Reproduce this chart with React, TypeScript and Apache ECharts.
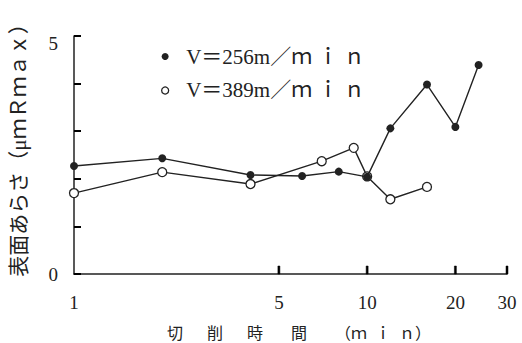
import React, { useEffect, useRef } from "react";
import * as echarts from "echarts";

// cutting time (min)
const timesV256 = [1, 2, 4, 6, 8, 10, 12, 16, 20, 24];
const roughV256 = [2.27, 2.43, 2.08, 2.06, 2.15, 2.04, 3.06, 3.98, 3.09, 4.39];
const timesV389 = [1, 2, 4, 7, 9, 10, 12, 16];
const roughV389 = [1.7, 2.14, 1.89, 2.37, 2.65, 2.05, 1.57, 1.83];

const seriesNames = ["V＝256m／ｍ ｉ ｎ", "V＝389m／ｍ ｉ ｎ"];
const xTickValues = [1, 5, 10, 20, 30];
const yTickValues = [1, 2, 3, 4, 5];
const yLabelValues = [0, 5];
const yAxisTitle = "表面あらさ（μｍＲｍａｘ）";
const xAxisTitle = "切　  削　  時　   間　   （ｍ  ｉ  ｎ）";

const INK = "#222";
const FONT = "'Liberation Serif', 'DejaVu Serif', 'Noto Sans CJK JP', serif";

export default function App() {
  const ref = useRef<HTMLDivElement>(null);
  useEffect(() => {
    if (!ref.current) return;
    const chart = echarts.init(ref.current, undefined, { renderer: "svg" });
    chart.setOption({
      animation: false,
      backgroundColor: "#fff",
      grid: { left: 72, top: 36, width: 435, height: 238, containLabel: false },
      legend: {
        orient: "vertical",
        left: 156,
        top: 41,
        itemWidth: 32,
        itemHeight: 7,
        itemGap: 13,
        symbolKeepAspect: true,
        selectedMode: false,
        textStyle: { fontSize: 21, fontFamily: FONT, color: INK },
        data: [
          { name: seriesNames[0], icon: "circle", itemStyle: { color: INK, borderWidth: 0 } },
          {
            name: seriesNames[1],
            icon: "circle",
            itemStyle: { color: "#fff", borderColor: INK, borderWidth: 1.3 },
          },
        ],
      },
      xAxis: {
        type: "log",
        logBase: 10,
        min: 1,
        max: 30,
        axisLine: { show: true, lineStyle: { color: INK, width: 1.5 } },
        axisTick: { show: false },
        axisLabel: { show: false },
        splitLine: { show: false },
        minorTick: { show: false },
      },
      yAxis: {
        type: "value",
        min: 0,
        max: 5,
        interval: 1,
        name: yAxisTitle,
        nameLocation: "middle",
        nameRotate: 90,
        nameGap: 45,
        nameTextStyle: { fontSize: 21, fontFamily: FONT, color: INK, padding: [0, 0, 0, 20] },
        axisLine: { show: true, lineStyle: { color: INK, width: 1.5 } },
        axisTick: { show: true, inside: true, length: 7, lineStyle: { color: "#000", width: 2 } },
        axisLabel: {
          margin: 16,
          fontSize: 19,
          fontFamily: FONT,
          color: INK,
          formatter: (v: number) =>
            yLabelValues.includes(v) ? (v === 5 ? "{low|5}" : String(v)) : "",
          rich: {
            low: { padding: [14, 0, 0, 0], fontSize: 19, fontFamily: FONT, color: INK },
          },
        },
        splitLine: { show: false },
      },
      graphic: [
        {
          type: "text",
          x: 167,
          y: 333,
          style: {
            text: xAxisTitle,
            fontSize: 16,
            fontFamily: FONT,
            fill: INK,
            verticalAlign: "middle",
          },
        },
      ],
      series: [
        {
          name: seriesNames[0],
          type: "line",
          data: timesV256.map((t, i) => [t, roughV256[i]]),
          symbol: "circle",
          symbolSize: 8,
          z: 3,
          lineStyle: { color: INK, width: 1.4 },
          itemStyle: { color: INK },
        },
        {
          name: seriesNames[1],
          type: "line",
          data: timesV389.map((t, i) => [t, roughV389[i]]),
          symbol: "circle",
          symbolSize: 9,
          z: 2,
          lineStyle: { color: INK, width: 1.4 },
          itemStyle: { color: "#fff", borderColor: INK, borderWidth: 1.3 },
        },
        {
          name: "xticks",
          type: "custom",
          clip: false,
          silent: true,
          z: 5,
          data: xTickValues.map((v) => [v, 0]),
          renderItem: (params: any, api: any) => {
            const v = api.value(0);
            const p = api.coord([v, 0]);
            const children: any[] = [
              {
                type: "text",
                x: p[0],
                y: p[1] + 28,
                style: {
                  text: String(v),
                  fontSize: 19,
                  fontFamily: FONT,
                  fill: INK,
                  align: "center",
                  verticalAlign: "middle",
                },
              },
            ];
            if (v !== xTickValues[0]) {
              children.push({
                type: "rect",
                shape: { x: p[0] - 1, y: p[1] - 8, width: 2, height: 8 },
                style: { fill: "#000", stroke: "#000", lineWidth: 0.5 },
              });
            }
            return { type: "group", children };
          },
        },
      ],
    });
    return () => chart.dispose();
  }, []);
  return (
    <div
      ref={ref}
      style={{ position: "fixed", left: 0, top: 0, width: 522, height: 343, background: "#fff" }}
    />
  );
}
